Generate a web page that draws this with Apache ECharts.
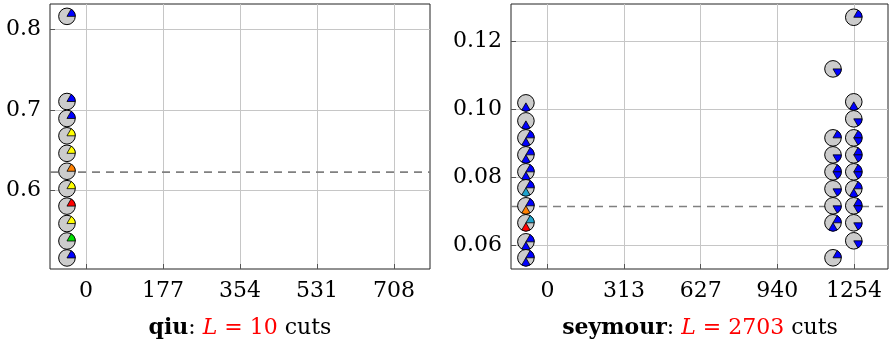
<!DOCTYPE html>
<html>
<head>
<meta charset="utf-8">
<script src="https://cdn.jsdelivr.net/npm/echarts@6/dist/echarts.min.js"></script>
<style>
html,body{margin:0;padding:0;background:#fff;}
#chart{width:893px;height:345px;}
</style>
</head>
<body>
<div id="chart"></div>
<script>
// ---------- data ----------
const qiuXTicks = [0, 177, 354, 531, 708];
const qiuXTickLabels = ['0', '177', '354', '531', '708'];
const qiuYTicks = [0.6, 0.7, 0.8];
const qiuYTickLabels = ['0.6', '0.7', '0.8'];
const qiuX = [-44, -44, -44, -44, -44, -44, -44, -44, -44, -44, -44];
const qiuY = [0.816, 0.7105, 0.6895, 0.668, 0.6463, 0.6241, 0.6025, 0.5809, 0.5593, 0.5377, 0.5167];
// one char per 60-degree slice (counter-clockwise from the right): b blue, y yellow, o orange, r red, g green, c cyan, . none
const qiuWedges = ['b.....', 'b.....', 'b.....', 'y.....', 'y.....', 'o.....', 'y.....', 'r.....', 'y.....', 'g.....', 'b.....'];
const qiuMean = 0.623;
const qiuTitleName = 'qiu';
const qiuCuts = '10';

const seyXTicks = [0, 313.5, 627, 940.5, 1254];
const seyXTickLabels = ['0', '313', '627', '940', '1254'];
const seyYTicks = [0.06, 0.08, 0.10, 0.12];
const seyYTickLabels = ['0.06', '0.08', '0.10', '0.12'];
const seyX = [
  -88, -88, -88, -88, -88, -88, -88, -88, -88, -88,
  1168, 1168, 1168, 1168, 1168, 1168, 1168, 1168,
  1253, 1253, 1253, 1253, 1253, 1253, 1253, 1253, 1253, 1253
];
const seyY = [
  0.1018, 0.0965, 0.0915, 0.0865, 0.0815, 0.0768, 0.0715, 0.0665, 0.0609, 0.0562,
  0.1118, 0.0915, 0.0865, 0.0815, 0.0765, 0.0715, 0.0665, 0.0562,
  0.127, 0.1021, 0.0971, 0.0915, 0.0865, 0.0815, 0.0765, 0.0715, 0.0665, 0.0612
];
const seyWedges = [
  '....b.', '....b.', 'b...b.', 'b...b.', 'b...b.', 'b...c.', 'b...o.', 'c...r.', 'b...b.', 'b...b.',
  '.....b', 'b.....', '.....b', 'b....b', '.....b', '.....b', 'b...b.', 'b.....',
  'b.....', '....b.', '.....b', 'b....b', 'b....b', 'b....b', 'b...b.', 'b....b', '.....b', '.....b'
];
const seyMean = 0.0713;
const seyTitleName = 'seymour';
const seyCuts = '2703';

// ---------- styling ----------
const colorMap = { b: '#0000ff', y: '#ffff00', o: '#ff8000', r: '#ff0000', g: '#00e000', c: '#1fa3cc' };
const FONT = '"DejaVu Serif", "Liberation Serif", serif';
const qiuXRange = [-83, 791];
const qiuYRange = [0.503, 0.8313];
const seyXRange = [-149, 1393];
const seyYRange = [0.0529, 0.1309];

function labelFmt(ticks, labels) {
  return function (v) {
    for (let i = 0; i < ticks.length; i++) if (Math.abs(ticks[i] - v) < 1e-7) return labels[i];
    return '';
  };
}

function makeAxis(type, idx, range, ticks, labels) {
  return {
    type: 'value',
    gridIndex: idx,
    min: range[0],
    max: range[1],
    axisLine: { show: false, onZero: false },
    axisTick: { show: true, inside: true, length: 5, customValues: ticks, lineStyle: { color: '#555', width: 1 } },
    axisLabel: {
      customValues: ticks,
      formatter: labelFmt(ticks, labels),
      fontFamily: FONT, fontSize: 22, color: '#000',
      margin: type === 'x' ? 11 : 9
    },
    splitLine: { show: true, lineStyle: { color: '#c6c6c6', width: 1 } }
  };
}

function markerRenderer(wedges) {
  return function (params, api) {
    const c = api.coord([api.value(0), api.value(1)]);
    const r = 8.3;
    const children = [{
      type: 'circle',
      shape: { cx: c[0], cy: c[1], r: r },
      style: { fill: '#cccccc', stroke: '#000', lineWidth: 1 }
    }];
    const w = wedges[params.dataIndex];
    for (let k = 0; k < 6; k++) {
      const ch = w[k];
      if (ch !== '.') {
        children.push({
          type: 'sector',
          shape: { cx: c[0], cy: c[1], r: r, r0: 0, startAngle: -(k + 1) * Math.PI / 3, endAngle: -k * Math.PI / 3, clockwise: true },
          style: { fill: colorMap[ch], stroke: '#000', lineWidth: 0.8 }
        });
      }
    }
    return { type: 'group', children: children };
  };
}

function zip(xs, ys) { return xs.map((x, i) => [x, ys[i]]); }

function titleText(name, cuts) {
  return '{b|' + name + '}{n|: }{ri|L}{r| = ' + cuts + '}{n| cuts}';
}
const TS = 22;
const rich = {
  b: { fontFamily: FONT, fontSize: TS, fontWeight: 'bold', color: '#000' },
  n: { fontFamily: FONT, fontSize: TS, color: '#000' },
  ri: { fontFamily: FONT, fontSize: TS, fontStyle: 'italic', color: '#ff0000' },
  r: { fontFamily: FONT, fontSize: TS, color: '#ff0000' }
};

const chart = echarts.init(document.getElementById('chart'), null, { renderer: 'canvas' });
chart.setOption({
  animation: false,
  backgroundColor: '#fff',
  title: [
    { text: titleText(qiuTitleName, qiuCuts), left: 240, top: 317, padding: 0, textAlign: 'center', textStyle: { rich: rich, fontFamily: FONT, fontSize: TS, fontWeight: 'normal' } },
    { text: titleText(seyTitleName, seyCuts), left: 700, top: 317, padding: 0, textAlign: 'center', textStyle: { rich: rich, fontFamily: FONT, fontSize: TS, fontWeight: 'normal' } }
  ],
  grid: [
    { left: 50, top: 4, width: 380, height: 265, show: true, borderColor: '#222', borderWidth: 1, backgroundColor: 'transparent', containLabel: false },
    { left: 511, top: 4, width: 377, height: 265, show: true, borderColor: '#222', borderWidth: 1, backgroundColor: 'transparent', containLabel: false }
  ],
  xAxis: [
    makeAxis('x', 0, qiuXRange, qiuXTicks, qiuXTickLabels),
    makeAxis('x', 1, seyXRange, seyXTicks, seyXTickLabels)
  ],
  yAxis: [
    makeAxis('y', 0, qiuYRange, qiuYTicks, qiuYTickLabels),
    makeAxis('y', 1, seyYRange, seyYTicks, seyYTickLabels)
  ],
  series: [
    {
      type: 'line', xAxisIndex: 0, yAxisIndex: 0, z: 2, silent: true,
      data: [[qiuXRange[0], qiuMean], [qiuXRange[1], qiuMean]],
      symbol: 'none', lineStyle: { color: '#808080', width: 1.6, type: [8, 6] }
    },
    {
      type: 'line', xAxisIndex: 1, yAxisIndex: 1, z: 2, silent: true,
      data: [[seyXRange[0], seyMean], [seyXRange[1], seyMean]],
      symbol: 'none', lineStyle: { color: '#808080', width: 1.6, type: [8, 6] }
    },
    {
      type: 'custom', xAxisIndex: 0, yAxisIndex: 0, z: 3, clip: false, silent: true,
      renderItem: markerRenderer(qiuWedges),
      data: zip(qiuX, qiuY)
    },
    {
      type: 'custom', xAxisIndex: 1, yAxisIndex: 1, z: 3, clip: false, silent: true,
      renderItem: markerRenderer(seyWedges),
      data: zip(seyX, seyY)
    }
  ]
});
</script>
</body>
</html>
